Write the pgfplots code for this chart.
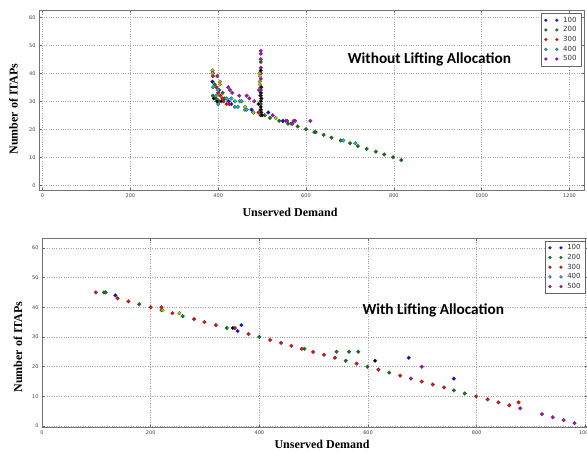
\documentclass[border=0pt]{standalone}
\usepackage{fontspec}
\setmainfont{Liberation Serif}
\newfontfamily\titlefont{Carlito}
\newfontfamily\tickfont{DejaVu Sans}
\usepackage{pgfplots}
\pgfplotsset{compat=1.18}

\definecolor{mb}{rgb}{0,0,1}
\definecolor{mg}{rgb}{0,0.5,0}
\definecolor{mr}{rgb}{1,0,0}
\definecolor{mc}{rgb}{0,0.75,0.75}
\definecolor{mm}{rgb}{0.75,0,0.75}
\definecolor{my}{rgb}{0.75,0.75,0}
\definecolor{mk}{rgb}{0,0,0}

\pgfplotsset{
  dot/.style={only marks, mark=*, mark size=1.9pt, color=black!70,
    mark options={fill=#1, draw=black!70, line width=0.25pt}},
  panel/.style={
    scale only axis,
    width=545pt,
    axis line style={draw=black!55, line width=0.9pt},
    grid=major,
    major grid style={dotted, draw=black!35, line width=0.5pt},
    tick align=inside,
    major tick length=2.5pt,
    tick style={black!60, line width=0.5pt},
    ticklabel style={font=\tickfont\fontsize{5}{6}\selectfont, text=black!75},
    /pgf/number format/assume math mode=true,
    /pgf/number format/1000 sep={},
    ytick={0,10,...,60},
    legend cell align=left,
    legend style={font=\tickfont\fontsize{7}{8}\selectfont, draw=black!60,
      line width=0.6pt, inner xsep=3pt, inner ysep=1.5pt, row sep=-1pt, text=black!80},
    legend image code/.code={\draw[##1, mark size=1.5pt] plot coordinates {(0pt,0pt) (11pt,0pt)};
      \path (15pt,0pt);},
  },
}

\begin{document}
\begin{tikzpicture}
\useasboundingbox (0pt,0pt) rectangle (587pt,451pt);

% ---------- top: without lifting allocation ----------
\begin{axis}[panel, at={(39pt,261pt)}, anchor=south west, height=180pt,
  xmin=-8, xmax=1233, ymin=-1.7, ymax=62.6,
  xtick={0,200,...,1200},
  legend style={at={(0.996,0.983)}, anchor=north east}]
\addplot[dot=mb] coordinates {
 (387,37) (400,30) (402,34) (424,30) (430,29) (476,27) (514,26) (547,23) (548,23) (497,27)};
\addlegendentry{100}
\addplot[dot=mg] coordinates {
 (392,36) (388,32) (395,31) (410,33) (415,31) (402,30) (497,44) (497,33) (497,29)
 (506,25) (518,24) (539,23) (559,22) (566,22) (581,21) (600,20) (619,19) (622,19)
 (640,18) (658,17) (679,16) (700,15) (718,14) (738,13) (759,12) (778,11) (798,10) (817,9)};
\addlegendentry{200}
\addplot[dot=mr] coordinates {
 (388,39) (400,33) (396,35) (405,32) (410,31) (419,29) (425,29) (412,30) (480,26) (492,26) (497,30)};
\addlegendentry{300}
\addplot[dot=mc] coordinates {
 (388,35) (395,32) (399,34) (419,31) (430,31) (438,30) (449,30) (453,30) (438,28) (445,28)
 (461,27) (465,27) (400,29) (685,16) (712,15)};
\addlegendentry{400}
\addplot[dot=mm] coordinates {
 (388,40) (398,39) (423,35) (427,34) (432,33) (448,32) (465,32) (471,31) (482,30)
 (497,48) (497,47) (497,45) (497,42) (497,40) (497,38) (497,34) (493,34)
 (524,25) (554,23) (557,23) (569,22) (572,23) (575,23) (610,23)};
\addlegendentry{500}
\addplot[forget plot, dot=my] coordinates {
 (387,41) (387,40) (404,37) (404,36) (461,28) (480,26) (531,24)
 (494,40) (495,39) (495,37) (495,36) (496,35) (496,32) (498,31)};
\addplot[forget plot, dot=mk] coordinates {
 (390,31) (397,30) (407,30) (497,41) (498,35) (497,33) (497,32) (498,31) (497,30)
 (497,28) (497,27) (498,26) (497,25) (500,25) (492,29)};
\node[font=\titlefont\bfseries\fontsize{15.3}{17}\selectfont] at (axis cs:881,45) {Without Lifting Allocation};
\end{axis}

% ---------- bottom: with lifting allocation ----------
\begin{axis}[panel, at={(42pt,24pt)}, anchor=south west, height=189pt,
  xmin=0, xmax=1003, ymin=-0.3, ymax=63.3,
  xtick={0,200,...,1000},
  legend style={at={(0.998,0.986)}, anchor=north east}]
\addplot[dot=mb] coordinates {
 (135,44) (360,32) (367,34) (675,23) (758,16)};
\addlegendentry{100}
\addplot[dot=mg] coordinates {
 (114,45) (117,45) (179,41) (220,39) (259,37) (340,33) (400,30) (483,26) (542,25)
 (559,22) (565,25) (582,25) (599,20) (639,18) (758,12) (778,11)};
\addlegendentry{200}
\addplot[dot=mr] coordinates {
 (99,45) (139,43) (159,42) (200,40) (220,40) (240,38) (280,36) (299,35) (320,34) (355,33)
 (380,31) (420,29) (440,28) (459,27) (478,26) (499,25) (519,24) (539,23) (579,21) (619,19)
 (659,17) (699,15) (719,14) (740,13) (799,10) (820,9) (840,8) (860,7) (877,8)};
\addlegendentry{300}
\addlegendimage{dot=mc}
\addlegendentry{400}
\addplot[dot=mm] coordinates {
 (679,16) (699,20) (880,6) (920,4) (940,3) (960,2) (980,1)};
\addlegendentry{500}
\addplot[forget plot, dot=my] coordinates {(222,39) (253,38)};
\addplot[forget plot, dot=mk] coordinates {(351,33) (613,22)};
\node[font=\titlefont\bfseries\fontsize{15.3}{17}\selectfont] at (axis cs:720,38.8) {With Lifting Allocation};
\end{axis}

% axis labels
\node[rotate=90, font=\bfseries\fontsize{12}{14}\selectfont] at (13.5pt,342pt) {Number of ITAPs};
\node[font=\bfseries\fontsize{12}{14}\selectfont] at (290pt,239pt) {Unserved Demand};
\node[rotate=90, font=\bfseries\fontsize{12}{14}\selectfont] at (18pt,104pt) {Number of ITAPs};
\node[font=\bfseries\fontsize{12}{14}\selectfont] at (322pt,7pt) {Unserved Demand};
\end{tikzpicture}
\end{document}
